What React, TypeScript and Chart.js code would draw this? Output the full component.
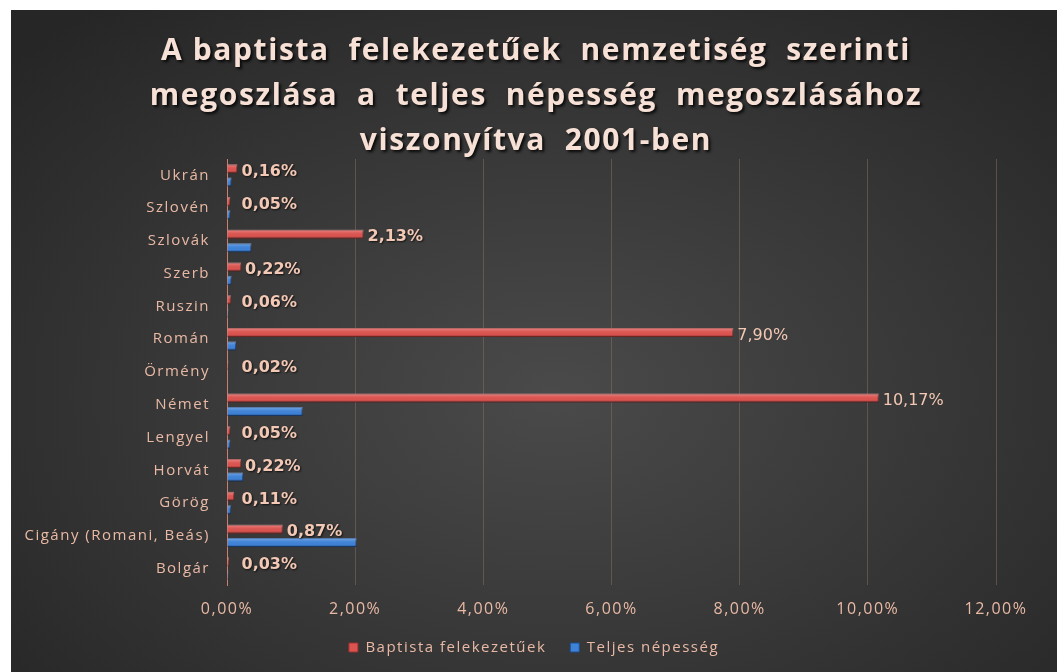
import React, { useEffect, useRef } from 'react';
import { Chart, registerables } from 'chart.js';

Chart.register(...registerables);

const categories = ['Ukrán', 'Szlovén', 'Szlovák', 'Szerb', 'Ruszin', 'Román', 'Örmény', 'Német', 'Lengyel', 'Horvát', 'Görög', 'Cigány (Romani, Beás)', 'Bolgár'];
const baptistValues = [0.16, 0.05, 2.13, 0.22, 0.06, 7.9, 0.02, 10.17, 0.05, 0.22, 0.11, 0.87, 0.03];
const totalValues = [0.07, 0.05, 0.38, 0.07, 0.02, 0.14, 0.01, 1.18, 0.05, 0.25, 0.06, 2.02, 0.02];
const seriesNames = ['Baptista felekezetűek', 'Teljes népesség'];
const titleLines = ['A baptista  felekezetűek  nemzetiség  szerinti', 'megoszlása  a  teljes  népesség  megoszlásához', 'viszonyítva  2001-ben'];
const xMin = 0;
const xMax = 12;
const xStep = 2;

const fmt = (v: number) => Number(v).toFixed(2).replace('.', ',') + '%';

const labelColor = '#e9b9a5';

const spacing = {
  id: 'spacing',
  beforeUpdate(chart: any) {
    chart.ctx.letterSpacing = '1.5px';
  },
  beforeDraw(chart: any) {
    chart.ctx.letterSpacing = '1.5px';
  },
};

const shadowTitle = {
  id: 'shadowTitle',
  afterDraw(chart: any) {
    const ctx = chart.ctx;
    ctx.save();
    ctx.letterSpacing = '1.6px';
    ctx.font = 'bold 30px "Open Sans"';
    ctx.fillStyle = '#f7e1d6';
    ctx.textAlign = 'center';
    ctx.textBaseline = 'middle';
    ctx.shadowColor = 'rgba(0,0,0,0.85)';
    ctx.shadowOffsetX = 2;
    ctx.shadowOffsetY = 2;
    ctx.shadowBlur = 3;
    const cx = chart.width / 2 + 2;
    titleLines.forEach((line, i) => {
      ctx.fillText(line, cx, 41 + i * 45);
    });
    ctx.restore();
  },
};

const barShade = {
  id: 'barShade',
  afterDatasetsDraw(chart: any) {
    const ctx = chart.ctx;
    chart.data.datasets.forEach((_ds: any, di: number) => {
      const meta = chart.getDatasetMeta(di);
      meta.data.forEach((bar: any) => {
        const { x, y, base, height } = bar.getProps(['x', 'y', 'base', 'height'], true);
        const top = y - height / 2;
        const left = Math.min(base, x);
        const w = Math.abs(x - base);
        if (w < 0.5) return;
        const g = ctx.createLinearGradient(0, top, 0, top + height);
        g.addColorStop(0, 'rgba(255,255,255,0.30)');
        g.addColorStop(0.35, 'rgba(255,255,255,0.06)');
        g.addColorStop(0.7, 'rgba(0,0,0,0)');
        g.addColorStop(1, 'rgba(0,0,0,0.35)');
        ctx.save();
        ctx.fillStyle = g;
        ctx.fillRect(left, top, w, height);
        ctx.restore();
      });
    });
  },
};

const valueLabels = {
  id: 'valueLabels',
  afterDatasetsDraw(chart: any) {
    const meta = chart.getDatasetMeta(0);
    const ctx = chart.ctx;
    ctx.save();
    ctx.letterSpacing = '0px';
    ctx.fillStyle = '#f3c8b4';
    ctx.textAlign = 'left';
    ctx.textBaseline = 'middle';
    meta.data.forEach((bar: any, i: number) => {
      const big = baptistValues[i] > 5;
      ctx.font = (big ? '' : 'bold ') + '16px "DejaVu Sans"';
      ctx.shadowColor = big ? 'rgba(0,0,0,0)' : 'rgba(0,0,0,0.7)';
      ctx.shadowOffsetX = 1;
      ctx.shadowOffsetY = 1;
      ctx.shadowBlur = 2;
      const x = Math.max(bar.x + 4, bar.base + 14);
      ctx.fillText(fmt(baptistValues[i]), x, bar.y + 3);
    });
    ctx.restore();
  },
};

export default function App() {
  const ref = useRef<HTMLCanvasElement | null>(null);

  useEffect(() => {
    if (!ref.current) return;
    const chart = new Chart(ref.current, {
      type: 'bar',
      data: {
        labels: categories,
        datasets: [
          {
            label: seriesNames[0],
            data: baptistValues,
            backgroundColor: '#dc5450',
            borderColor: '#9c3330',
            borderWidth: 1,
            categoryPercentage: 0.82,
            barPercentage: 0.67,
          },
          {
            label: seriesNames[1],
            data: totalValues,
            backgroundColor: '#3f83d8',
            borderColor: '#1d4e92',
            borderWidth: 1,
            categoryPercentage: 0.82,
            barPercentage: 0.67,
          },
        ],
      },
      options: {
        indexAxis: 'y',
        responsive: false,
        animation: false,
        layout: { padding: { left: 0, right: 0, top: 149, bottom: 7 } },
        plugins: {
          title: { display: false },
          legend: {
            position: 'bottom',
            labels: {
              color: labelColor,
              font: { family: '"Open Sans"', size: 15 },
              boxWidth: 9,
              boxHeight: 9,
              padding: 24,
            },
          },
          tooltip: { enabled: false },
        },
        scales: {
          x: {
            min: xMin,
            max: xMax,
            ticks: {
              stepSize: xStep,
              callback: (v: any) => fmt(v),
              color: labelColor,
              font: { family: '"Open Sans"', size: 16 },
              padding: 15,
            },
            grid: {
              color: (c: any) => (c.tick && c.tick.value === 0 ? '#c98070' : 'rgba(140,110,100,0.5)'),
              drawTicks: false,
            },
            border: { display: false },
            afterFit: (s: any) => {
              s.height = 31;
            },
          },
          y: {
            ticks: {
              color: labelColor,
              font: { family: '"Open Sans"', size: 15 },
              padding: 17,
            },
            grid: { display: false, drawTicks: false },
            border: { display: true, color: '#c98070' },
            afterFit: (s: any) => {
              s.width = 216;
            },
          },
          yRight: {
            type: 'linear',
            axis: 'y',
            position: 'right',
            display: true,
            grid: { display: false, drawTicks: false },
            ticks: { display: false },
            border: { display: false },
            afterFit: (s: any) => {
              s.width = 61;
            },
          },
        },
      },
      plugins: [spacing, barShade, valueLabels, shadowTitle],
    } as any);
    return () => chart.destroy();
  }, []);

  return (
    <div
      style={{
        position: 'absolute',
        left: 11,
        top: 10,
        width: 1046,
        height: 662,
        background: 'radial-gradient(ellipse 70% 75% at 52% 58%, #4a4a4a 0%, #3a3a3a 45%, #262626 100%)',
      }}
    >
      <canvas ref={ref} width={1046} height={662} />
    </div>
  );
}
